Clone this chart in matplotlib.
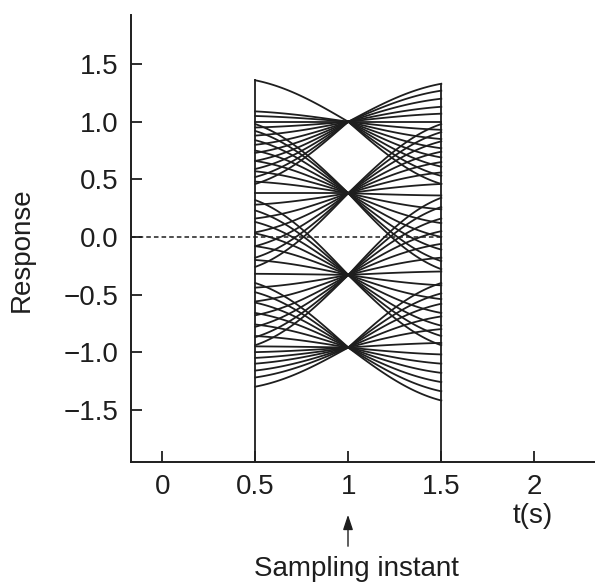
import numpy as np
import matplotlib
matplotlib.use("Agg")
import matplotlib.pyplot as plt

plt.rcParams['font.family'] = ['Liberation Sans', 'DejaVu Sans']

# Sampling levels at t = 1 s
levels = [1.0, 0.38, -0.33, -0.96]
# Trace values at the left edge (t = 0.5 s), per level
left_edges = [
    [1.36, 1.09, 1.05, 1.00, 0.95, 0.88, 0.80, 0.73, 0.66, 0.59, 0.52, 0.46],
    [0.98, 0.92, 0.84, 0.75, 0.66, 0.57, 0.48, 0.38, 0.28, 0.16, 0.04, -0.08, -0.18, -0.26],
    [0.32, 0.23, 0.13, 0.03, -0.08, -0.20, -0.32, -0.44, -0.56, -0.68, -0.78, -0.87, -0.94],
    [-0.40, -0.48, -0.57, -0.66, -0.76, -0.86, -0.95, -1.00, -1.05, -1.10, -1.16, -1.22, -1.30],
]
# Trace values at the right edge (t = 1.5 s), per level
right_edges = [
    [1.33, 1.27, 1.20, 1.13, 1.07, 1.00, 0.93, 0.85, 0.77, 0.69, 0.61, 0.53, 0.46],
    [0.98, 0.91, 0.83, 0.74, 0.65, 0.56, 0.46, 0.36, 0.24, 0.12, 0.00, -0.11, -0.21, -0.28],
    [0.34, 0.26, 0.16, 0.05, -0.06, -0.18, -0.30, -0.42, -0.54, -0.66, -0.77, -0.86, -0.94],
    [-0.40, -0.49, -0.58, -0.69, -0.80, -0.92, -1.02, -1.10, -1.18, -1.26, -1.34, -1.42],
]
xticks = [0, 0.5, 1, 1.5, 2]
xticklabels = ['0', '0.5', '1', '1.5', '2']
yticks = [1.5, 1.0, 0.5, 0.0, -0.5, -1.0, -1.5]
yticklabels = ['1.5', '1.0', '0.5', '0.0', '\u22120.5', '\u22121.0', '\u22121.5']

XMIN, XMAX = -0.168, 2.326
YMIN, YMAX = -1.95, 1.93
ink = '#1e1e1e'
FS = 20

fig = plt.figure(figsize=(5.95, 5.85), dpi=100)
ax = fig.add_axes([0.220, 0.211, 0.780, 0.764])
ax.set_xlim(XMIN, XMAX)
ax.set_ylim(YMIN, YMAX)

# reference dashed line at 0
ax.plot([XMIN, 1.5], [0, 0], ls=(0, (3, 2)), lw=1.1, color=ink, zorder=1)


def shape(t):
    u = np.abs(t - 1.0) / 0.5
    return 0.45 * u + 0.55 * np.sin(np.pi * u / 2)


tl = np.linspace(0.5, 1.0, 80)
tr = np.linspace(1.0, 1.5, 80)
for c, le, re in zip(levels, left_edges, right_edges):
    for e in le:
        ax.plot(tl, c + (e - c) * shape(tl), color=ink, lw=1.3, zorder=2)
    for e in re:
        ax.plot(tr, c + (e - c) * shape(tr), color=ink, lw=1.3, zorder=2)

top_left = max(max(v) for v in left_edges)
top_right = max(max(v) for v in right_edges)
ax.vlines([0.5], YMIN, top_left + 0.01, color=ink, lw=1.3, zorder=3)
ax.vlines([1.5], YMIN, top_right + 0.01, color=ink, lw=1.3, zorder=3)

for s in ['top', 'right']:
    ax.spines[s].set_visible(False)
for s in ['left', 'bottom']:
    ax.spines[s].set_color(ink)
    ax.spines[s].set_linewidth(1.4)

ax.set_xticks(xticks)
ax.set_xticklabels(xticklabels)
ax.set_yticks(yticks)
ax.set_yticklabels(yticklabels)
ax.tick_params(axis='both', direction='in', length=8, width=1.3, color=ink,
               labelsize=FS, labelcolor=ink)
ax.tick_params(axis='x', pad=9)
ax.tick_params(axis='y', pad=9)

fig.text(22 / 595, 1 - 250 / 585, 'Response', rotation=90, ha='center', va='center',
         fontsize=FS, color=ink)
fig.text(533 / 595, 1 - 516 / 585, 't(s)', ha='center', va='center', fontsize=FS, color=ink)
fig.text(356 / 595, 1 - 569 / 585, 'Sampling instant', ha='center', va='center',
         fontsize=FS, color=ink)
ax.annotate('', xy=(348 / 595, 1 - 512 / 585), xytext=(348 / 595, 1 - 549 / 585),
            xycoords='figure fraction', textcoords='figure fraction',
            arrowprops=dict(arrowstyle='-|>,head_length=0.9,head_width=0.3',
                            color=ink, lw=1.0), annotation_clip=False)

fig.savefig('out.png', dpi=100)
